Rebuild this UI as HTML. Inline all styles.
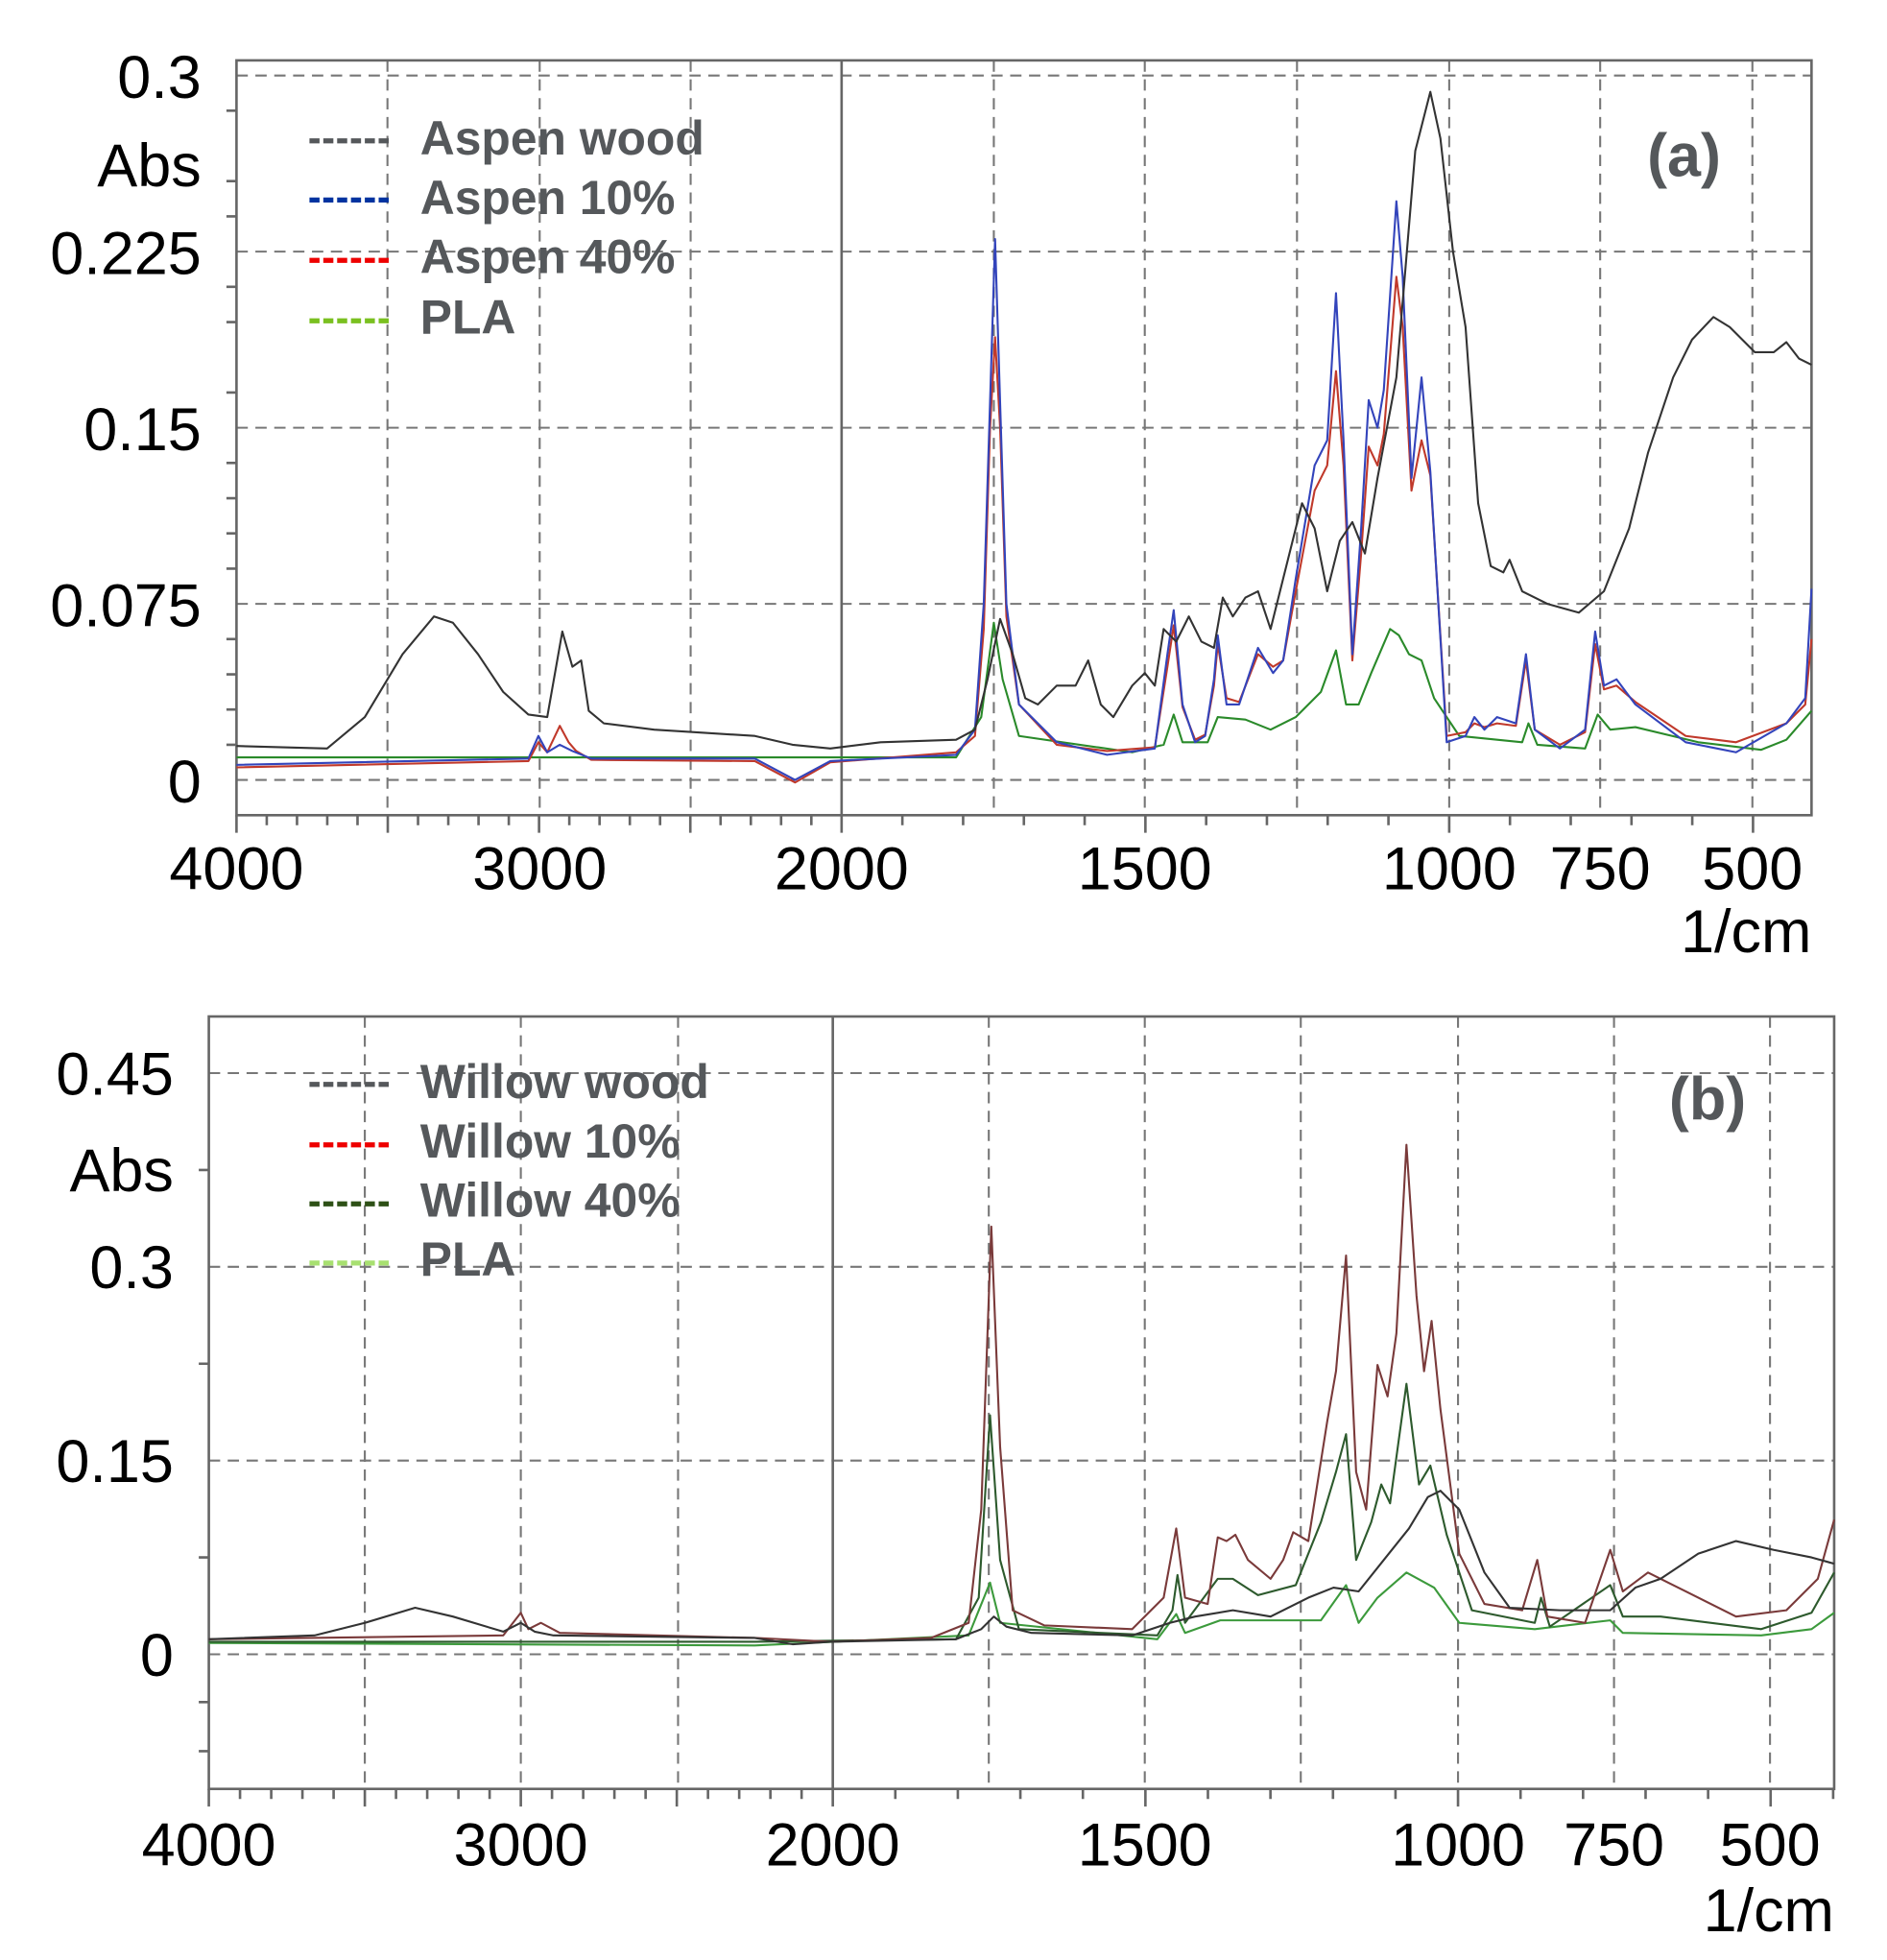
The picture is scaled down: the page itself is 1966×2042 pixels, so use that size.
<!DOCTYPE html>
<html><head><meta charset="utf-8"><style>
html,body{margin:0;padding:0;background:#fff;}
svg{display:block;}
text{font-family:"Liberation Sans",Arial,sans-serif;}
.lab{font-size:48px;fill:#000;}
.leg{font-size:38px;font-weight:bold;fill:#55585b;}
.grid{stroke:#777;stroke-width:1.6;stroke-dasharray:9,6;fill:none;}
.ax{stroke:#666;stroke-width:2;fill:none;}
.c{fill:none;stroke-width:1.6;stroke-linejoin:round;}
</style></head><body>
<svg id="s" width="1966" height="2042" viewBox="0 0 1500 1558" preserveAspectRatio="none" xmlns="http://www.w3.org/2000/svg">
<rect width="1500" height="1558" fill="#fff"/>
<g>
<path class="grid" d="M188,60H1440M188,200H1440M188,340H1440M188,480H1440M188,620H1440"/>
<path class="grid" d="M308,48V648M429,48V648M549,48V648M790,48V648M910,48V648M1031,48V648M1152,48V648M1272,48V648M1393,48V648"/>
<path class="ax" d="M669,48V648"/>
<rect x="188" y="48" width="1252" height="600" class="ax"/>
<g id="ta" class="ax"></g>
<text class="lab" x="160" y="78" text-anchor="end">0.3</text>
<text class="lab" x="160" y="148" text-anchor="end">Abs</text>
<text class="lab" x="160" y="218" text-anchor="end">0.225</text>
<text class="lab" x="160" y="358" text-anchor="end">0.15</text>
<text class="lab" x="160" y="498" text-anchor="end">0.075</text>
<text class="lab" x="160" y="638" text-anchor="end">0</text>
<text class="lab" x="188" y="707" text-anchor="middle">4000</text>
<text class="lab" x="429" y="707" text-anchor="middle">3000</text>
<text class="lab" x="669" y="707" text-anchor="middle">2000</text>
<text class="lab" x="910" y="707" text-anchor="middle">1500</text>
<text class="lab" x="1152" y="707" text-anchor="middle">1000</text>
<text class="lab" x="1272" y="707" text-anchor="middle">750</text>
<text class="lab" x="1393" y="707" text-anchor="middle">500</text>
<text class="lab" x="1440" y="757" text-anchor="end">1/cm</text>
<path d="M246,112H310" stroke="#55585b" stroke-width="4" stroke-dasharray="8,3"/>
<path d="M246,159H310" stroke="#0033a0" stroke-width="4" stroke-dasharray="8,3"/>
<path d="M246,207H310" stroke="#ee0000" stroke-width="4" stroke-dasharray="8,3"/>
<path d="M246,255H310" stroke="#7ac020" stroke-width="4" stroke-dasharray="8,3"/>
<text class="leg" x="334" y="123">Aspen wood</text>
<text class="leg" x="334" y="170">Aspen 10%</text>
<text class="leg" x="334" y="217">Aspen 40%</text>
<text class="leg" x="334" y="265">PLA</text>
<text x="1368" y="140" text-anchor="end" style="font-size:48px;font-weight:bold;fill:#55585b">(a)</text>
<polyline class="c" stroke="#2a8a2a" points="188,602 760,602 780,570 790,495 797,540 810,585 900,598 925,592 933,568 940,590 960,590 968,570 990,572 1010,580 1030,570 1050,550 1062,517 1070,560 1080,560 1090,535 1105,500 1112,505 1120,520 1130,525 1140,555 1160,585 1210,590 1215,575 1222,592 1260,595 1270,568 1280,580 1300,578 1350,590 1400,596 1420,588 1440,565"/>
<polyline class="c" stroke="#c0392b" points="188,610 420,605 428,590 435,598 445,577 452,590 458,597 470,604 600,605 632,622 660,606 760,598 775,585 782,500 787,340 791,268 795,340 800,490 810,560 840,592 880,597 918,594 928,530 933,497 940,562 950,588 958,584 965,545 968,512 975,555 985,558 1000,520 1012,530 1020,525 1030,470 1045,390 1055,370 1062,295 1068,370 1075,525 1082,440 1088,355 1095,370 1100,345 1110,220 1115,260 1122,390 1130,350 1137,378 1150,585 1165,582 1172,575 1180,578 1190,575 1205,577 1213,525 1220,580 1240,592 1260,582 1268,512 1275,548 1285,545 1300,558 1340,585 1380,590 1420,575 1435,560 1440,508"/>
<polyline class="c" stroke="#3344bb" points="188,608 420,603 428,585 435,598 445,592 455,597 470,603 600,603 632,620 660,605 760,600 775,580 782,480 787,320 791,190 795,320 800,480 810,560 840,590 880,600 918,595 928,520 933,485 940,560 950,590 958,585 965,540 968,505 975,560 985,560 1000,515 1012,535 1020,525 1030,460 1045,370 1055,350 1062,233 1068,350 1075,520 1082,420 1088,318 1095,340 1100,310 1110,160 1115,220 1122,380 1130,300 1137,375 1150,590 1165,585 1172,570 1180,580 1190,570 1205,575 1213,520 1220,580 1240,595 1260,580 1268,502 1275,545 1285,540 1300,560 1340,590 1380,598 1420,575 1435,555 1440,468"/>
<polyline class="c" stroke="#333" points="188,593 260,595 290,570 320,520 345,490 360,495 380,520 400,550 420,568 435,570 447,502 455,530 462,525 468,565 480,575 520,580 600,585 630,592 660,595 700,590 760,588 775,580 785,540 795,492 805,520 815,555 825,560 840,545 855,545 865,525 875,560 885,570 900,545 910,535 918,545 925,500 935,510 945,490 955,510 965,515 972,475 980,490 990,475 1000,470 1010,500 1020,460 1035,400 1045,420 1055,470 1065,430 1075,415 1085,440 1095,380 1110,300 1125,120 1137,73 1145,110 1155,200 1165,260 1175,400 1185,450 1195,455 1200,445 1210,470 1230,480 1255,487 1275,470 1295,420 1310,360 1330,300 1345,270 1362,252 1375,260 1395,280 1410,280 1420,272 1430,285 1440,290"/>
</g>
<g>
<path class="grid" d="M166,853H1458M166,1007H1458M166,1161H1458M166,1315H1458"/>
<path class="grid" d="M290,808V1422M414,808V1422M539,808V1422M786,808V1422M910,808V1422M1034,808V1422M1159,808V1422M1283,808V1422M1407,808V1422"/>
<path class="ax" d="M662,808V1422"/>
<rect x="166" y="808" width="1292" height="614" class="ax"/>
<g id="tb" class="ax"></g>
<text class="lab" x="138" y="870" text-anchor="end">0.45</text>
<text class="lab" x="138" y="947" text-anchor="end">Abs</text>
<text class="lab" x="138" y="1024" text-anchor="end">0.3</text>
<text class="lab" x="138" y="1178" text-anchor="end">0.15</text>
<text class="lab" x="138" y="1332" text-anchor="end">0</text>
<text class="lab" x="166" y="1483" text-anchor="middle">4000</text>
<text class="lab" x="414" y="1483" text-anchor="middle">3000</text>
<text class="lab" x="662" y="1483" text-anchor="middle">2000</text>
<text class="lab" x="910" y="1483" text-anchor="middle">1500</text>
<text class="lab" x="1159" y="1483" text-anchor="middle">1000</text>
<text class="lab" x="1283" y="1483" text-anchor="middle">750</text>
<text class="lab" x="1407" y="1483" text-anchor="middle">500</text>
<text class="lab" x="1458" y="1535" text-anchor="end">1/cm</text>
<path d="M246,862H310" stroke="#55585b" stroke-width="4" stroke-dasharray="8,3"/>
<path d="M246,910H310" stroke="#ee0000" stroke-width="4" stroke-dasharray="8,3"/>
<path d="M246,957H310" stroke="#2d5016" stroke-width="4" stroke-dasharray="8,3"/>
<path d="M246,1004H310" stroke="#a8e070" stroke-width="4" stroke-dasharray="8,3"/>
<text class="leg" x="334" y="873">Willow wood</text>
<text class="leg" x="334" y="920">Willow 10%</text>
<text class="leg" x="334" y="967">Willow 40%</text>
<text class="leg" x="334" y="1014">PLA</text>
<text x="1388" y="890" text-anchor="end" style="font-size:48px;font-weight:bold;fill:#55585b">(b)</text>
<polyline class="c" stroke="#3c9a3c" points="166,1306 600,1308 770,1300 787,1258 795,1290 920,1303 935,1283 942,1298 970,1288 1050,1288 1070,1260 1080,1290 1095,1270 1118,1250 1140,1262 1160,1290 1220,1295 1280,1288 1290,1298 1400,1300 1440,1295 1458,1282"/>
<polyline class="c" stroke="#2d5a2d" points="166,1305 600,1305 760,1303 778,1270 787,1125 795,1240 810,1295 920,1300 932,1280 936,1252 942,1290 968,1255 980,1255 1000,1268 1030,1260 1050,1210 1062,1170 1070,1140 1078,1240 1090,1210 1098,1180 1105,1195 1118,1100 1128,1180 1137,1165 1150,1220 1170,1280 1220,1290 1225,1270 1232,1293 1280,1260 1290,1285 1320,1285 1400,1295 1440,1282 1458,1250"/>
<polyline class="c" stroke="#7a3a3a" points="166,1303 400,1300 414,1282 420,1295 430,1290 445,1298 600,1302 660,1305 740,1302 770,1290 780,1200 788,975 795,1150 805,1280 830,1292 900,1295 925,1270 935,1215 942,1270 960,1275 968,1222 975,1225 982,1220 992,1240 1010,1255 1020,1240 1028,1218 1040,1225 1055,1130 1062,1090 1070,998 1078,1170 1086,1200 1095,1085 1103,1110 1110,1060 1118,910 1126,1030 1132,1090 1138,1050 1145,1120 1160,1235 1180,1275 1210,1280 1222,1240 1230,1285 1260,1290 1280,1232 1290,1265 1310,1250 1340,1265 1380,1285 1420,1280 1445,1255 1458,1208"/>
<polyline class="c" stroke="#333" points="166,1303 250,1300 290,1290 330,1278 360,1285 400,1297 414,1290 425,1297 440,1300 600,1302 630,1307 660,1305 760,1303 780,1295 790,1285 800,1293 820,1298 900,1300 930,1290 950,1285 980,1280 1010,1285 1040,1270 1060,1262 1080,1265 1100,1240 1120,1215 1135,1190 1145,1185 1160,1200 1180,1250 1200,1278 1240,1280 1280,1280 1300,1262 1320,1255 1350,1235 1380,1225 1410,1232 1440,1238 1458,1243"/>
</g>
</svg>
<script>
function ticks(id,x0,x2000,x1000,xEnd,yb,ys){
 var d="";
 for(var v=4000;v>=2000;v-=100){var x=x0+(4000-v)/1000*(x2000-x0)/2;var L=(v%500==0)?14:8;d+="M"+x+","+yb+"v"+L;}
 for(var v=1900;v>=400;v-=100){var x=x2000+(2000-v)/1000*(x1000-x2000);if(x>xEnd+1)break;var L=(v%250==0)?14:8;d+="M"+x+","+yb+"v"+L;}
 for(var i=0;i<ys.length;i++){d+="M"+x0+","+ys[i]+"h-8";}
 var p=document.createElementNS("http://www.w3.org/2000/svg","path");p.setAttribute("d",d);document.getElementById(id).appendChild(p);
}
ticks("ta",188,669,1152,1440,648,[88,144,172,228,256,312,368,396,424,452,508,536,564,592]);
ticks("tb",166,662,1159,1458,1422,[930,1084,1238,1353,1392]);
</script>
</body></html>
